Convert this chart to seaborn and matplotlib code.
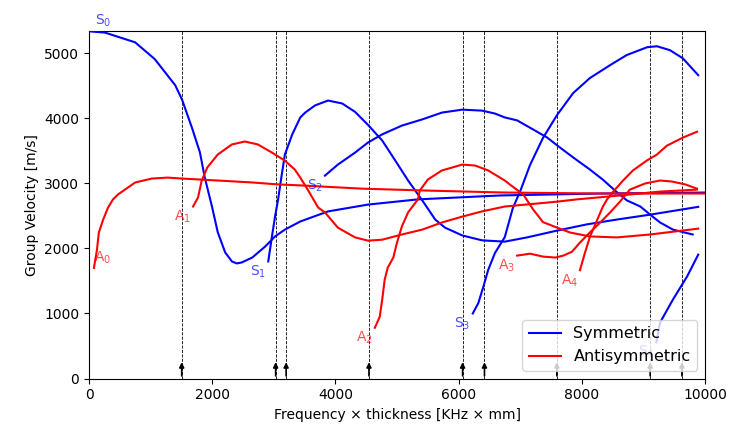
import matplotlib
matplotlib.use("Agg")
import matplotlib.pyplot as plt
import numpy as np
import pandas as pd
import seaborn as sns
from matplotlib.lines import Line2D

# ---- data (frequency x thickness [kHz mm], group velocity [m/s]) ----
s0_f = [0, 260, 750, 1070, 1400, 1510, 1670, 1800, 1880, 2000, 2090, 2210, 2320, 2400, 2480, 2650, 2860, 3020, 3180, 3430, 3880, 4530, 5340, 6670, 8300, 10000]
s0_v = [5340, 5320, 5170, 4910, 4510, 4290, 3860, 3480, 3090, 2630, 2250, 1940, 1800, 1770, 1785, 1860, 2030, 2185, 2290, 2415, 2570, 2675, 2755, 2815, 2845, 2860]

s1_f = [2910, 2970, 3020, 3070, 3130, 3180, 3300, 3430, 3510, 3670, 3880, 4110, 4320, 4530, 4760, 4970, 5180, 5410, 5620, 5780, 6060, 6380, 6750, 7110, 7600, 8080, 8570, 9110, 9890]
s1_v = [1800, 2185, 2490, 2755, 3140, 3445, 3755, 4015, 4090, 4200, 4275, 4230, 4100, 3900, 3660, 3355, 3045, 2740, 2445, 2320, 2200, 2125, 2105, 2170, 2275, 2370, 2445, 2520, 2640]

s2_f = [3830, 4040, 4320, 4530, 4760, 5080, 5410, 5730, 6060, 6380, 6590, 6750, 6950, 7210, 7440, 7600, 7860, 8130, 8340, 8540, 8730, 8950, 9110, 9270, 9480, 9800]
s2_v = [3120, 3290, 3475, 3630, 3755, 3890, 3985, 4090, 4135, 4120, 4075, 4015, 3970, 3830, 3705, 3585, 3400, 3215, 3060, 2890, 2740, 2645, 2520, 2400, 2290, 2215]

s3_f = [6230, 6320, 6400, 6480, 6590, 6750, 6880, 7000, 7160, 7370, 7600, 7860, 8130, 8460, 8730, 9060, 9220, 9430, 9640, 9890]
s3_v = [1000, 1160, 1405, 1670, 1930, 2175, 2620, 2880, 3285, 3700, 4055, 4390, 4620, 4820, 4975, 5095, 5110, 5050, 4925, 4665]

s4_f = [9210, 9270, 9480, 9710, 9890]
s4_v = [560, 860, 1215, 1570, 1905]

a0_f = [80, 130, 160, 230, 310, 390, 470, 750, 1020, 1280, 1510, 2090, 2650, 3070, 3430, 4430, 5500, 6750, 8300, 10000]
a0_v = [1700, 1985, 2245, 2445, 2630, 2755, 2830, 3015, 3075, 3090, 3075, 3045, 3015, 2985, 2970, 2920, 2890, 2860, 2845, 2845]

a1_f = [1690, 1770, 1830, 1920, 2090, 2320, 2530, 2740, 2970, 3180, 3340, 3430, 3560, 3720, 3830, 4040, 4320, 4530, 4760, 5080, 5410, 5730, 6060, 6380, 6750, 7600, 7920, 8620, 9270, 9870]
a1_v = [2645, 2785, 3045, 3245, 3445, 3600, 3645, 3600, 3475, 3350, 3215, 3090, 2890, 2630, 2555, 2320, 2170, 2120, 2135, 2215, 2290, 2400, 2490, 2570, 2645, 2720, 2755, 2815, 2875, 2905]

a2_f = [4640, 4720, 4760, 4800, 4850, 4940, 5000, 5080, 5180, 5340, 5370, 5500, 5730, 6060, 6270, 6480, 6750, 6830, 7050, 7210, 7370, 7600, 7810, 8130, 8570, 9110, 9890]
a2_v = [780, 950, 1215, 1520, 1705, 1860, 2090, 2340, 2555, 2755, 2890, 3060, 3200, 3290, 3275, 3200, 3045, 2985, 2830, 2600, 2405, 2320, 2245, 2185, 2170, 2215, 2305]

a3_f = [6950, 7160, 7370, 7570, 7700, 7840, 7970, 8130, 8300, 8460, 8620, 8780, 9030, 9270, 9460, 9680, 9870]
a3_v = [1890, 1920, 1875, 1860, 1890, 1950, 2090, 2245, 2400, 2555, 2720, 2905, 3000, 3045, 3030, 2985, 2920]

a4_f = [7970, 8050, 8130, 8250, 8340, 8410, 8510, 8670, 8830, 9060, 9220, 9380, 9640, 9870]
a4_v = [1665, 1930, 2175, 2440, 2640, 2755, 2875, 3045, 3200, 3355, 3445, 3580, 3705, 3795]

cutoffs = [1505, 3030, 3200, 4545, 6065, 6420, 7595, 9110, 9625]

mode_names = ["S$_0$", "S$_1$", "S$_2$", "S$_3$", "S$_4$", "A$_0$", "A$_1$", "A$_2$", "A$_3$", "A$_4$"]
mode_family = ["Symmetric"] * 5 + ["Antisymmetric"] * 5
mode_f = [s0_f, s1_f, s2_f, s3_f, s4_f, a0_f, a1_f, a2_f, a3_f, a4_f]
mode_v = [s0_v, s1_v, s2_v, s3_v, s4_v, a0_v, a1_v, a2_v, a3_v, a4_v]

rows = []
for name, fam, fs, vs in zip(mode_names, mode_family, mode_f, mode_v):
    for f, v in zip(fs, vs):
        rows.append({"f": f, "v": v, "mode": name, "family": fam})
df = pd.DataFrame(rows)

palette = {"Symmetric": "blue", "Antisymmetric": "red"}

fig = plt.figure(figsize=(7.29, 4.30), dpi=100)
ax = fig.add_axes([89 / 729, 51.5 / 430, 616 / 729, 347.2 / 430])

for c in cutoffs:
    ax.axvline(c, color="black", ls="--", lw=0.6, zorder=1)
    ax.annotate("", xy=(c, 250), xytext=(c, 40),
                arrowprops=dict(arrowstyle="-|>", color="black", lw=1.2,
                                mutation_scale=7, shrinkA=0, shrinkB=0),
                zorder=2)

sns.lineplot(data=df, x="f", y="v", hue="family", units="mode", estimator=None,
             sort=False, palette=palette, legend=False, ax=ax, lw=1.5, zorder=3)

# mode labels at curve starts
for name, fam, fs, vs in zip(mode_names, mode_family, mode_f, mode_v):
    col = palette[fam]
    if name.startswith("S$_0"):
        kw = dict(xytext=(6, 2), ha="left", va="bottom")
    elif name.startswith("A$_0"):
        kw = dict(xytext=(0, 2), ha="left", va="bottom")
    else:
        kw = dict(xytext=(-2, -2), ha="right", va="top")
    ax.annotate(name, xy=(fs[0], vs[0]), textcoords="offset pixels",
                color=col, alpha=0.7, fontsize=10, annotation_clip=False,
                zorder=4, **kw)

ax.set_xlim(0, 10000)
ax.set_ylim(0, 5340)
ax.set_xticks([0, 2000, 4000, 6000, 8000, 10000])
ax.set_yticks([0, 1000, 2000, 3000, 4000, 5000])
ax.set_xlabel("Frequency \u00d7 thickness [KHz \u00d7 mm]")
ax.set_ylabel("Group Velocity [m/s]")

handles = [Line2D([], [], color="blue", lw=1.5, label="Symmetric"),
           Line2D([], [], color="red", lw=1.5, label="Antisymmetric")]
leg = ax.legend(handles=handles, loc="lower right", fontsize=11.5)
leg.set_zorder(10)

fig.savefig("out.png", dpi=100)
